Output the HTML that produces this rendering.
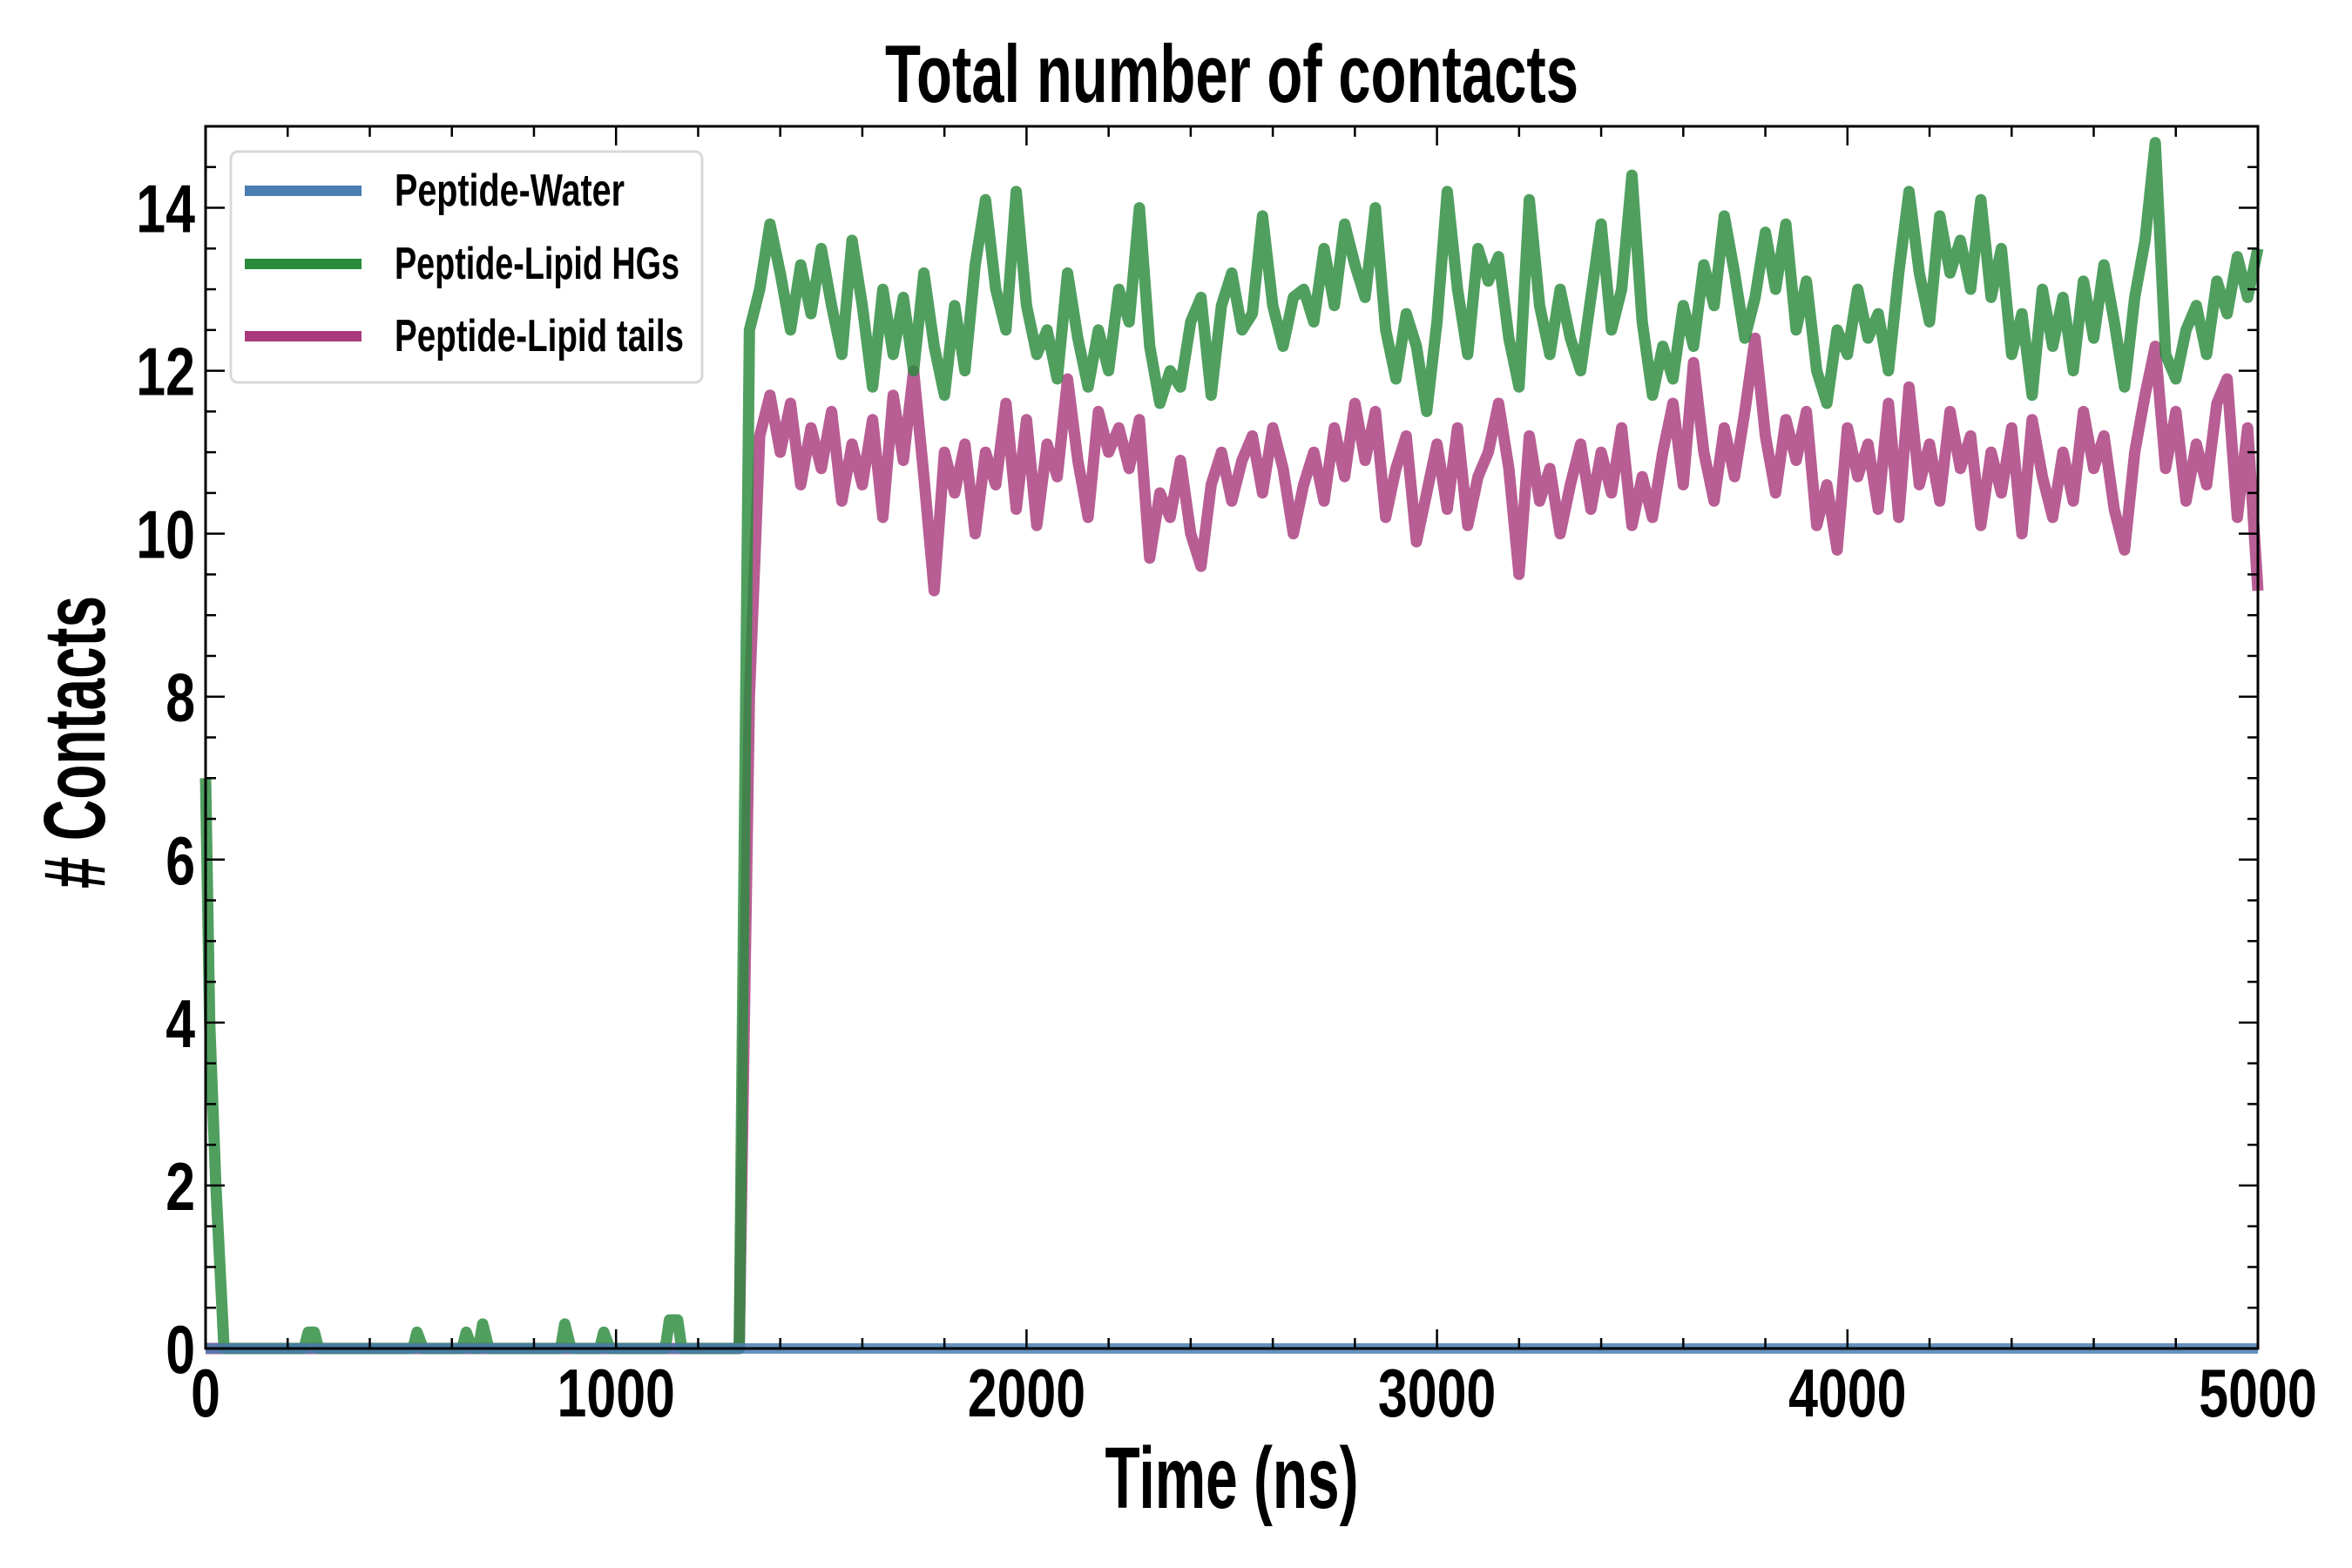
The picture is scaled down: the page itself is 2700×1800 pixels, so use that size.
<!DOCTYPE html>
<html><head><meta charset="utf-8"><style>
html,body{margin:0;padding:0;background:#fff}
svg{display:block}
text{font-family:"Liberation Sans",sans-serif;font-weight:bold;fill:#000}
</style></head><body>
<svg id="chart" width="2700" height="1800" viewBox="0 0 2700 1800">
<rect x="0" y="0" width="2700" height="1800" fill="#fff"/>
<text class="cond" data-w="796" x="1414" y="117" font-size="94" text-anchor="middle">Total number of contacts</text>
<g id="plot"></g>
<text class="cond" data-w="291" x="1414" y="1731" font-size="100" text-anchor="middle">Time (ns)</text>
<text class="cond" data-w="336" transform="translate(120,852) rotate(-90)" font-size="100" text-anchor="middle"># Contacts</text>
<g>
<rect x="265" y="174" width="541" height="265" rx="8" fill="#fff" stroke="#d8d8d8" stroke-width="3"/>
<line x1="281" y1="219" x2="415" y2="219" stroke="#4a7cb0" stroke-width="12"/>
<text class="cond" data-w="264" x="453" y="236" font-size="52">Peptide-Water</text>
<line x1="281" y1="303" x2="415" y2="303" stroke="#2a8a3c" stroke-width="12"/>
<text class="cond" data-w="327" x="453" y="320" font-size="52">Peptide-Lipid HGs</text>
<line x1="281" y1="386" x2="415" y2="386" stroke="#a83a7c" stroke-width="12"/>
<text class="cond" data-w="332" x="453" y="403" font-size="52">Peptide-Lipid tails</text>
</g>
</svg>
<script>
const xTicks = [0,1000,2000,3000,4000,5000];
const yTicks = [0,2,4,6,8,10,12,14];
const hgEarlyTimes = [0,10,25,35,45,60,240,250,265,275,505,515,530,625,635,650,665,675,690,865,875,890,960,970,985,1120,1130,1150,1160,1300];
const hgEarlyVals  = [7,4,2,1,0,0,0,0.2,0.2,0,0,0.2,0,0,0.2,0,0,0.3,0,0,0.3,0,0,0.2,0,0,0.35,0.35,0,0];
const lateStart = 1325, lateStep = 25;
const hgLateVals = [12.5,13,13.8,13.2,12.5,13.3,12.7,13.5,12.8,12.2,13.6,12.8,11.8,13.0,12.2,12.9,12.0,13.2,12.3,11.7,12.8,12.0,13.3,14.1,13.0,12.5,14.2,12.8,12.2,12.5,11.9,13.2,12.4,11.8,12.5,12.0,13.0,12.6,14.0,12.3,11.6,12.0,11.8,12.6,12.9,11.7,12.8,13.2,12.5,12.7,13.9,12.8,12.3,12.9,13.0,12.6,13.5,12.8,13.8,13.3,12.9,14.0,12.5,11.9,12.7,12.3,11.5,12.6,14.2,13.0,12.2,13.5,13.1,13.4,12.4,11.8,14.1,12.8,12.2,13.0,12.4,12.0,12.9,13.8,12.5,13.0,14.4,12.6,11.7,12.3,11.9,12.8,12.3,13.3,12.8,13.9,13.2,12.4,12.9,13.7,13.0,13.8,12.5,13.1,12.0,11.6,12.5,12.2,13.0,12.4,12.7,12.0,13.2,14.2,13.2,12.6,13.9,13.2,13.6,13.0,14.1,12.9,13.5,12.2,12.7,11.7,13.0,12.3,12.9,12.0,13.1,12.4,13.3,12.6,11.8,12.9,13.6,14.8,12.2,11.9,12.5,12.8,12.2,13.1,12.7,13.4,12.9,13.5];
const tailEarlyTimes = [0,1300];
const tailEarlyVals = [0,0];
const tailLateVals = [8,11.2,11.7,11.0,11.6,10.6,11.3,10.8,11.5,10.4,11.1,10.6,11.4,10.2,11.7,10.9,12.0,10.7,9.3,11.0,10.5,11.1,10.0,11.0,10.6,11.6,10.3,11.4,10.1,11.1,10.7,11.9,10.9,10.2,11.5,11.0,11.3,10.8,11.4,9.7,10.5,10.2,10.9,10.0,9.6,10.6,11.0,10.4,10.9,11.2,10.5,11.3,10.8,10.0,10.6,11.0,10.4,11.3,10.7,11.6,10.9,11.5,10.2,10.8,11.2,9.9,10.5,11.1,10.3,11.3,10.1,10.7,11.0,11.6,10.8,9.5,11.2,10.4,10.8,10.0,10.6,11.1,10.3,11.0,10.5,11.3,10.1,10.7,10.2,11.0,11.6,10.6,12.1,11.0,10.4,11.3,10.7,11.5,12.4,11.2,10.5,11.4,10.9,11.5,10.1,10.6,9.8,11.3,10.7,11.1,10.3,11.6,10.2,11.8,10.6,11.1,10.4,11.5,10.8,11.2,10.1,11.0,10.5,11.3,10.0,11.4,10.7,10.2,11.0,10.4,11.5,10.8,11.2,10.3,9.8,11.0,11.7,12.3,10.8,11.5,10.4,11.1,10.6,11.6,11.9,10.2,11.3,9.3];
const waterTimes = [0,5000];
const waterVals = [0,0];

const L=236,R=2592,T=145,B=1548;
const xS = t => L + t/5000*(R-L);
const yS = v => B - v/15*(B-T);
const NS="http://www.w3.org/2000/svg";
const plot=document.getElementById('plot');
function mk(tag,attrs){const e=document.createElementNS(NS,tag);for(const k in attrs)e.setAttribute(k,attrs[k]);return e;}

function series(early,earlyV,late,color,name){
  const pts=[];
  early.forEach((t,i)=>pts.push([xS(t),yS(earlyV[i])]));
  late.forEach((v,i)=>pts.push([xS(lateStart+i*lateStep),yS(v)]));
  const p=mk('polyline',{points:pts.map(p=>p[0].toFixed(1)+','+p[1].toFixed(1)).join(' '),fill:'none',stroke:color,'stroke-width':13,'stroke-linejoin':'round','stroke-opacity':0.82});
  
  
  plot.appendChild(p);
}
series(tailEarlyTimes,tailEarlyVals,tailLateVals,'#a83a7c','series-peptide-lipid-tails');
series(hgEarlyTimes,hgEarlyVals,hgLateVals,'#2a8a3c','series-peptide-lipid-hgs');
{
  const pts=waterTimes.map((t,i)=>xS(t).toFixed(1)+','+yS(waterVals[i]).toFixed(1)).join(' ');
  const p=mk('polyline',{points:pts,fill:'none',stroke:'#4a7cb0','stroke-width':12,'stroke-opacity':0.85});
  
  
  plot.appendChild(p);
}

const fr=mk('rect',{x:L,y:T,width:R-L,height:B-T,fill:'none',stroke:'#000','stroke-width':3});


plot.appendChild(fr);

for(let t=0;t<=5000;t+=200){
  const len = (t%1000===0)?22:12;
  const x=xS(t);
  const a=mk('line',{x1:x,y1:B,x2:x,y2:B-len,stroke:'#000','stroke-width':2.5});
  
  
  plot.appendChild(a);
  const b=mk('line',{x1:x,y1:T,x2:x,y2:T+len,stroke:'#000','stroke-width':2.5});
  
  
  plot.appendChild(b);
}
for(let v=0;v<=15;v+=0.5){
  const len=(v%2===0)?22:12;
  const y=yS(v);
  const a=mk('line',{x1:L,y1:y,x2:L+len,y2:y,stroke:'#000','stroke-width':2.5});
  
  
  plot.appendChild(a);
  const b=mk('line',{x1:R,y1:y,x2:R-len,y2:y,stroke:'#000','stroke-width':2.5});
  
  
  plot.appendChild(b);
}
xTicks.forEach(t=>{
  const tx=mk('text',{x:xS(t),y:B+78,'font-size':78,'text-anchor':'middle','class':'cond'});
  tx.textContent=t;
  
  
  plot.appendChild(tx);
});
yTicks.forEach(v=>{
  const tx=mk('text',{x:L-12,y:yS(v)+28,'font-size':78,'text-anchor':'end','class':'cond'});
  tx.textContent=v;
  
  
  plot.appendChild(tx);
});
// condense text to mimic narrow font
document.querySelectorAll('text.cond').forEach(el=>{
  const w = el.getComputedTextLength();
  const target = el.dataset.w ? parseFloat(el.dataset.w) : w*0.78;
  el.setAttribute('textLength', target.toFixed(1));
  el.setAttribute('lengthAdjust', 'spacingAndGlyphs');
});
</script>
</body></html>
